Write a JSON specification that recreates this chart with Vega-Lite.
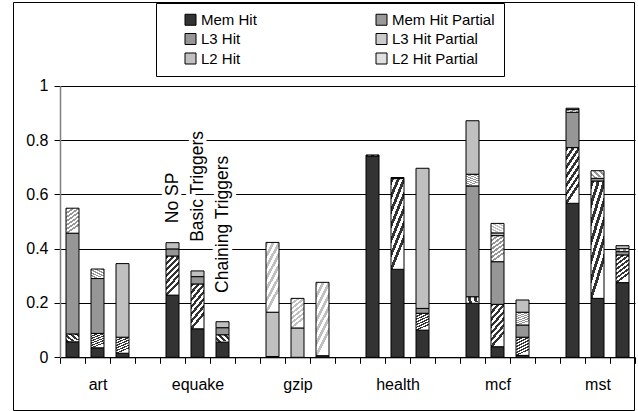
{
  "$schema": "https://vega.github.io/schema/vega-lite/v6.json",
  "width": 621,
  "height": 408,
  "autosize": {"type": "none"},
  "padding": {"left": 13, "top": 2, "right": 4, "bottom": 1},
  "background": "white",
  "config": {
    "font": "Liberation Sans",
    "view": {"stroke": "#000", "strokeWidth": 1, "fill": "white"}
  },
  "datasets": {
    "bars": [
      {"slot": "art|a", "type": "Mem Hit", "v": 0.057},
      {"slot": "art|a", "type": "Mem Hit Partial", "v": 0.029},
      {"slot": "art|a", "type": "L3 Hit", "v": 0.371},
      {"slot": "art|a", "type": "L3 Hit Partial", "v": 0.092},
      {"slot": "art|b", "type": "Mem Hit", "v": 0.035},
      {"slot": "art|b", "type": "Mem Hit Partial", "v": 0.053},
      {"slot": "art|b", "type": "L3 Hit", "v": 0.202},
      {"slot": "art|b", "type": "L3 Hit Partial", "v": 0.035},
      {"slot": "art|c", "type": "Mem Hit", "v": 0.015},
      {"slot": "art|c", "type": "Mem Hit Partial", "v": 0.059},
      {"slot": "art|c", "type": "L2 Hit", "v": 0.271},
      {"slot": "equake|a", "type": "Mem Hit", "v": 0.229},
      {"slot": "equake|a", "type": "Mem Hit Partial", "v": 0.144},
      {"slot": "equake|a", "type": "L3 Hit", "v": 0.026},
      {"slot": "equake|a", "type": "L2 Hit", "v": 0.023},
      {"slot": "equake|b", "type": "Mem Hit", "v": 0.105},
      {"slot": "equake|b", "type": "Mem Hit Partial", "v": 0.165},
      {"slot": "equake|b", "type": "L3 Hit", "v": 0.027},
      {"slot": "equake|b", "type": "L2 Hit", "v": 0.021},
      {"slot": "equake|c", "type": "Mem Hit", "v": 0.056},
      {"slot": "equake|c", "type": "Mem Hit Partial", "v": 0.027},
      {"slot": "equake|c", "type": "L3 Hit", "v": 0.026},
      {"slot": "equake|c", "type": "L2 Hit", "v": 0.022},
      {"slot": "gzip|a", "type": "Mem Hit", "v": 0.003},
      {"slot": "gzip|a", "type": "L2 Hit", "v": 0.163},
      {"slot": "gzip|a", "type": "L2 Hit Partial", "v": 0.257},
      {"slot": "gzip|b", "type": "L2 Hit", "v": 0.108},
      {"slot": "gzip|b", "type": "L2 Hit Partial", "v": 0.109},
      {"slot": "gzip|c", "type": "Mem Hit", "v": 0.006},
      {"slot": "gzip|c", "type": "L2 Hit Partial", "v": 0.270},
      {"slot": "health|a", "type": "Mem Hit", "v": 0.741},
      {"slot": "health|a", "type": "Mem Hit Partial", "v": 0.004},
      {"slot": "health|b", "type": "Mem Hit", "v": 0.324},
      {"slot": "health|b", "type": "Mem Hit Partial", "v": 0.334},
      {"slot": "health|b", "type": "L3 Hit", "v": 0.004},
      {"slot": "health|c", "type": "Mem Hit", "v": 0.100},
      {"slot": "health|c", "type": "Mem Hit Partial", "v": 0.062},
      {"slot": "health|c", "type": "L3 Hit", "v": 0.018},
      {"slot": "health|c", "type": "L2 Hit", "v": 0.516},
      {"slot": "mcf|a", "type": "Mem Hit", "v": 0.199},
      {"slot": "mcf|a", "type": "Mem Hit Partial", "v": 0.024},
      {"slot": "mcf|a", "type": "L3 Hit", "v": 0.408},
      {"slot": "mcf|a", "type": "L3 Hit Partial", "v": 0.043},
      {"slot": "mcf|a", "type": "L2 Hit", "v": 0.197},
      {"slot": "mcf|b", "type": "Mem Hit", "v": 0.039},
      {"slot": "mcf|b", "type": "Mem Hit Partial", "v": 0.156},
      {"slot": "mcf|b", "type": "L3 Hit", "v": 0.157},
      {"slot": "mcf|b", "type": "L3 Hit Partial", "v": 0.096},
      {"slot": "mcf|b", "type": "L2 Hit", "v": 0.010},
      {"slot": "mcf|b", "type": "L2 Hit Partial", "v": 0.035},
      {"slot": "mcf|c", "type": "Mem Hit", "v": 0.007},
      {"slot": "mcf|c", "type": "Mem Hit Partial", "v": 0.067},
      {"slot": "mcf|c", "type": "L3 Hit", "v": 0.045},
      {"slot": "mcf|c", "type": "L3 Hit Partial", "v": 0.047},
      {"slot": "mcf|c", "type": "L2 Hit", "v": 0.045},
      {"slot": "mst|a", "type": "Mem Hit", "v": 0.567},
      {"slot": "mst|a", "type": "Mem Hit Partial", "v": 0.205},
      {"slot": "mst|a", "type": "L3 Hit", "v": 0.130},
      {"slot": "mst|a", "type": "L3 Hit Partial", "v": 0.010},
      {"slot": "mst|a", "type": "L2 Hit", "v": 0.005},
      {"slot": "mst|b", "type": "Mem Hit", "v": 0.217},
      {"slot": "mst|b", "type": "Mem Hit Partial", "v": 0.432},
      {"slot": "mst|b", "type": "L3 Hit", "v": 0.010},
      {"slot": "mst|b", "type": "L3 Hit Partial", "v": 0.028},
      {"slot": "mst|c", "type": "Mem Hit", "v": 0.275},
      {"slot": "mst|c", "type": "Mem Hit Partial", "v": 0.102},
      {"slot": "mst|c", "type": "L3 Hit", "v": 0.012},
      {"slot": "mst|c", "type": "L3 Hit Partial", "v": 0.011},
      {"slot": "mst|c", "type": "L2 Hit", "v": 0.011}
    ],
    "notes": [
      {"slot": "equake|a", "v": 0.494, "note": "No SP"},
      {"slot": "equake|b", "v": 0.425, "note": "Basic Triggers"},
      {"slot": "equake|c", "v": 0.237, "note": "Chaining Triggers"}
    ]
  },
  "layer": [
    {
      "data": {"name": "bars"},
      "transform": [
        {"calculate": "indexof(['Mem Hit','Mem Hit Partial','L3 Hit','L3 Hit Partial','L2 Hit','L2 Hit Partial'], datum.type)", "as": "k"}
      ],
      "mark": {"type": "bar", "stroke": "#000", "strokeWidth": 1, "width": {"band": 0.52}},
      "encoding": {
        "x": {
          "field": "slot", "type": "nominal",
          "scale": {
            "domain": ["art|a","art|b","art|c","_1","equake|a","equake|b","equake|c","_2","gzip|a","gzip|b","gzip|c","_3","health|a","health|b","health|c","_4","mcf|a","mcf|b","mcf|c","_5","mst|a","mst|b","mst|c"],
            "range": [47, 622], "paddingInner": 0, "paddingOuter": 0
          },
          "axis": {
            "title": null, "orient": "bottom", "offset": -52.7, "tickBand": "extent",
            "ticks": true, "tickSize": 6, "tickColor": "#000", "domainColor": "#000",
            "labelExpr": "test(/[|]b$/, '' + datum.label) ? replace('' + datum.label, '|b', '') : ''",
            "labelAngle": 0, "labelFontSize": 16, "labelColor": "#000", "labelPadding": 13,
            "labelOverlap": false, "labelBound": false, "labelFlush": false, "grid": false
          }
        },
        "y": {
          "field": "v", "type": "quantitative", "stack": "zero",
          "scale": {"domain": [0, 1], "range": [355.3, 83.7], "nice": false},
          "axis": {
            "title": null, "offset": -47, "values": [0, 0.2, 0.4, 0.6, 0.8, 1], "format": ".1~f",
            "grid": true, "gridColor": "#000", "gridOpacity": 1, "gridWidth": 1,
            "domainColor": "#808080", "domainWidth": 1.5, "tickColor": "#000", "tickSize": 6,
            "labelFontSize": 16, "labelColor": "#000", "labelPadding": 6
          }
        },
        "fill": {
          "field": "type", "type": "nominal",
          "scale": {
            "domain": ["Mem Hit", "L3 Hit", "L2 Hit", "Mem Hit Partial", "L3 Hit Partial", "L2 Hit Partial"],
            "range": ["#333333", "#969696", "#c0c0c0", "#999999", "#cbcbcb", "#e0e0e0"]
          },
          "condition": [
            {"test": "datum.type === 'Mem Hit Partial'", "value": {"gradient": "linear", "x1": 0, "y1": 0, "x2": 0.35, "y2": 1, "stops": [
                {"offset": 0, "color": "#333333"}, {"offset": 0.0714, "color": "#333333"}, {"offset": 0.0714, "color": "#ffffff"}, {"offset": 0.1429, "color": "#ffffff"},
                {"offset": 0.1429, "color": "#333333"}, {"offset": 0.2143, "color": "#333333"}, {"offset": 0.2143, "color": "#ffffff"}, {"offset": 0.2857, "color": "#ffffff"},
                {"offset": 0.2857, "color": "#333333"}, {"offset": 0.3571, "color": "#333333"}, {"offset": 0.3571, "color": "#ffffff"}, {"offset": 0.4286, "color": "#ffffff"},
                {"offset": 0.4286, "color": "#333333"}, {"offset": 0.5, "color": "#333333"}, {"offset": 0.5, "color": "#ffffff"}, {"offset": 0.5714, "color": "#ffffff"},
                {"offset": 0.5714, "color": "#333333"}, {"offset": 0.6429, "color": "#333333"}, {"offset": 0.6429, "color": "#ffffff"}, {"offset": 0.7143, "color": "#ffffff"},
                {"offset": 0.7143, "color": "#333333"}, {"offset": 0.7857, "color": "#333333"}, {"offset": 0.7857, "color": "#ffffff"}, {"offset": 0.8571, "color": "#ffffff"},
                {"offset": 0.8571, "color": "#333333"}, {"offset": 0.9286, "color": "#333333"}, {"offset": 0.9286, "color": "#ffffff"}, {"offset": 1, "color": "#ffffff"}
              ]}},
            {"test": "datum.type === 'L3 Hit Partial'", "value": {"gradient": "linear", "x1": 0, "y1": 0, "x2": 0.35, "y2": 1, "stops": [
                {"offset": 0, "color": "#969696"}, {"offset": 0.0714, "color": "#969696"}, {"offset": 0.0714, "color": "#ffffff"}, {"offset": 0.1429, "color": "#ffffff"},
                {"offset": 0.1429, "color": "#969696"}, {"offset": 0.2143, "color": "#969696"}, {"offset": 0.2143, "color": "#ffffff"}, {"offset": 0.2857, "color": "#ffffff"},
                {"offset": 0.2857, "color": "#969696"}, {"offset": 0.3571, "color": "#969696"}, {"offset": 0.3571, "color": "#ffffff"}, {"offset": 0.4286, "color": "#ffffff"},
                {"offset": 0.4286, "color": "#969696"}, {"offset": 0.5, "color": "#969696"}, {"offset": 0.5, "color": "#ffffff"}, {"offset": 0.5714, "color": "#ffffff"},
                {"offset": 0.5714, "color": "#969696"}, {"offset": 0.6429, "color": "#969696"}, {"offset": 0.6429, "color": "#ffffff"}, {"offset": 0.7143, "color": "#ffffff"},
                {"offset": 0.7143, "color": "#969696"}, {"offset": 0.7857, "color": "#969696"}, {"offset": 0.7857, "color": "#ffffff"}, {"offset": 0.8571, "color": "#ffffff"},
                {"offset": 0.8571, "color": "#969696"}, {"offset": 0.9286, "color": "#969696"}, {"offset": 0.9286, "color": "#ffffff"}, {"offset": 1, "color": "#ffffff"}
              ]}},
            {"test": "datum.type === 'L2 Hit Partial'", "value": {"gradient": "linear", "x1": 0, "y1": 0, "x2": 0.35, "y2": 1, "stops": [
                {"offset": 0, "color": "#c0c0c0"}, {"offset": 0.0714, "color": "#c0c0c0"}, {"offset": 0.0714, "color": "#ffffff"}, {"offset": 0.1429, "color": "#ffffff"},
                {"offset": 0.1429, "color": "#c0c0c0"}, {"offset": 0.2143, "color": "#c0c0c0"}, {"offset": 0.2143, "color": "#ffffff"}, {"offset": 0.2857, "color": "#ffffff"},
                {"offset": 0.2857, "color": "#c0c0c0"}, {"offset": 0.3571, "color": "#c0c0c0"}, {"offset": 0.3571, "color": "#ffffff"}, {"offset": 0.4286, "color": "#ffffff"},
                {"offset": 0.4286, "color": "#c0c0c0"}, {"offset": 0.5, "color": "#c0c0c0"}, {"offset": 0.5, "color": "#ffffff"}, {"offset": 0.5714, "color": "#ffffff"},
                {"offset": 0.5714, "color": "#c0c0c0"}, {"offset": 0.6429, "color": "#c0c0c0"}, {"offset": 0.6429, "color": "#ffffff"}, {"offset": 0.7143, "color": "#ffffff"},
                {"offset": 0.7143, "color": "#c0c0c0"}, {"offset": 0.7857, "color": "#c0c0c0"}, {"offset": 0.7857, "color": "#ffffff"}, {"offset": 0.8571, "color": "#ffffff"},
                {"offset": 0.8571, "color": "#c0c0c0"}, {"offset": 0.9286, "color": "#c0c0c0"}, {"offset": 0.9286, "color": "#ffffff"}, {"offset": 1, "color": "#ffffff"}
              ]}}
          ],
          "legend": {
            "title": null, "orient": "none", "legendX": 143, "legendY": 1, "columns": 2,
            "padding": 9, "strokeColor": "#000", "fillColor": "#fff",
            "symbolType": "square", "symbolSize": 121, "symbolStrokeColor": "#000", "symbolStrokeWidth": 1,
            "symbolOffset": 18, "labelOffset": 3, "labelFontSize": 15, "labelColor": "#000",
            "columnPadding": 99, "rowPadding": 3.5
          }
        },
        "order": {"field": "k", "type": "quantitative"}
      }
    },
    {
      "data": {"name": "notes"},
      "mark": {"type": "text", "angle": 270, "align": "left", "baseline": "middle", "fontSize": 17.5, "fill": "#fff", "stroke": "#fff", "strokeWidth": 8, "strokeJoin": "round"},
      "encoding": {
        "x": {"field": "slot", "type": "nominal"},
        "y": {"field": "v", "type": "quantitative"},
        "text": {"field": "note"}
      }
    },
    {
      "data": {"name": "notes"},
      "mark": {"type": "text", "angle": 270, "align": "left", "baseline": "middle", "fontSize": 17.5, "fill": "#000"},
      "encoding": {
        "x": {"field": "slot", "type": "nominal"},
        "y": {"field": "v", "type": "quantitative"},
        "text": {"field": "note"}
      }
    }
  ]
}
